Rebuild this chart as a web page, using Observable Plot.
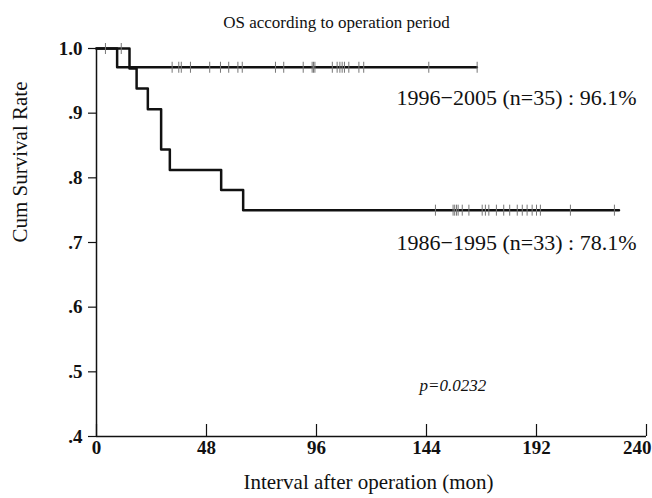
<!DOCTYPE html>
<html>
<head>
<meta charset="utf-8">
<script src="https://cdn.jsdelivr.net/npm/d3@7"></script>
<script src="https://cdn.jsdelivr.net/npm/@observablehq/plot@0.6"></script>
<style>
  html, body { margin: 0; padding: 0; background: #fff; }
  svg { display: block; }
  svg text { font-family: "Liberation Serif", serif !important; }
</style>
</head>
<body>
<div id="chart"></div>
<script>
// ---- data ----
const xTicks = [0, 48, 96, 144, 192, 240];
const yTicks = [0.4, 0.5, 0.6, 0.7, 0.8, 0.9, 1.0];
const yTickLabels = [".4", ".5", ".6", ".7", ".8", ".9", "1.0"];

// 1996-2005 group (Kaplan-Meier steps)
const lateTimes = [0, 9.0];
const lateSurv = [1.0, 0.971];
const lateEnd = 166;
const lateCensor = [3.9, 33.0, 35.9, 37.0, 41.0, 49.4, 54.1, 57.7, 61.7, 63.6, 78.1, 81.7, 90.2, 94.1, 94.7, 95.3,
  102.9, 105.0, 106.2, 107.2, 108.2, 110.1, 114.5, 116.6, 145.0, 166.1];

// 1986-1995 group
const earlyTimes = [0, 14.4, 17.5, 22.4, 28.2, 32.0, 54.4, 64.0];
const earlySurv = [1.0, 0.969, 0.938, 0.906, 0.844, 0.812, 0.781, 0.75];
const earlyEnd = 228;
const earlyCensor = [10.8, 147.9, 155.6, 156.3, 157.1, 157.8, 159.6, 162.5, 168.3, 169.7, 171.2, 174.5, 177.7,
  180.3, 183.6, 185.8, 187.9, 190.1, 192.0, 193.7, 206.8, 226.0];

const labels = ["1996\u22122005 (n=35) : 96.1%", "1986\u22121995 (n=33) : 78.1%"];
const pText = "p=0.0232";
const title = "OS according to operation period";
const xLabel = "Interval after operation (mon)";
const yLabel = "Cum Survival Rate";

// ---- build tables ----
function stepLine(times, surv, end, group) {
  const pts = times.map((t, i) => ({t, s: surv[i], group}));
  pts.push({t: end, s: surv[surv.length - 1], group});
  return pts;
}
function survAt(times, surv, t) {
  let s = surv[0];
  for (let i = 0; i < times.length; i++) if (times[i] <= t) s = surv[i];
  return s;
}
const lines = [...stepLine(lateTimes, lateSurv, lateEnd, "late"), ...stepLine(earlyTimes, earlySurv, earlyEnd, "early")];
const censors = [
  ...lateCensor.map(t => ({t, s: survAt(lateTimes, lateSurv, t)})),
  ...earlyCensor.map(t => ({t, s: survAt(earlyTimes, earlySurv, t)}))
];

const vtick = {
  draw(context, size) {
    const h = Math.sqrt(size / Math.PI);
    context.moveTo(0, -h);
    context.lineTo(0, h);
  }
};

const font = "Liberation Serif";
const T = {fontFamily: font, fill: "#111"};

const chart = Plot.plot({
  width: 652,
  height: 498,
  marginLeft: 96,
  marginRight: 6,
  marginTop: 48,
  marginBottom: 62,
  style: {fontFamily: font, color: "#111", background: "#fff"},
  x: {domain: [0, 240], axis: null},
  y: {domain: [0.4, 1.0], axis: null},
  marks: [
    // axes lines
    Plot.ruleX([0], {stroke: "#111", strokeWidth: 1.5}),
    Plot.ruleY([0.4], {stroke: "#111", strokeWidth: 1.5}),
    // x ticks (inward)
    Plot.ruleX(xTicks, {x: d => d, insetTop: 376, stroke: "#111", strokeWidth: 1.2}),
    // y axis ticks and labels
    Plot.axisY(yTicks, {tickSize: 8, tickPadding: 6, tickFormat: d => yTickLabels[yTicks.indexOf(d)],
      fontSize: 19, fontWeight: "bold", fontFamily: font, stroke: "#111", strokeWidth: 1.2, label: null}),
    // x tick labels
    Plot.text(xTicks.slice(0, -1), {...T, x: d => d, frameAnchor: "bottom", dy: 17, text: d => String(d),
      fontSize: 19, fontWeight: "bold"}),
    Plot.text(xTicks.slice(-1), {...T, x: d => d, frameAnchor: "bottom", dy: 17, dx: 5, textAnchor: "end",
      text: d => String(d), fontSize: 19, fontWeight: "bold"}),
    // survival curves
    Plot.line(lines, {x: "t", y: "s", z: "group", curve: "step-after", stroke: "#111", strokeWidth: 2.5}),
    // censor marks
    Plot.dot(censors, {x: "t", y: "s", symbol: vtick, r: 5.5, stroke: "#777", strokeWidth: 1, fill: "none"}),
    // annotations
    Plot.text([labels[0]], {...T, x: 240, y: 0.924, textAnchor: "end", dx: -10, fontSize: 22}),
    Plot.text([labels[1]], {...T, x: 240, y: 0.700, textAnchor: "end", dx: -10, fontSize: 22}),
    Plot.text([pText], {...T, x: 155.5, y: 0.479, fontSize: 17, fontStyle: "italic"}),
    // titles
    Plot.text([title], {...T, frameAnchor: "top", dy: -33, dx: -35, fontSize: 17}),
    Plot.text([xLabel], {...T, frameAnchor: "bottom", dy: 52, dx: -3, fontSize: 21}),
    Plot.text([yLabel], {...T, frameAnchor: "left", dx: -76, rotate: -90, fontSize: 21})
  ]
});
document.getElementById("chart").appendChild(chart);
</script>
</body>
</html>
